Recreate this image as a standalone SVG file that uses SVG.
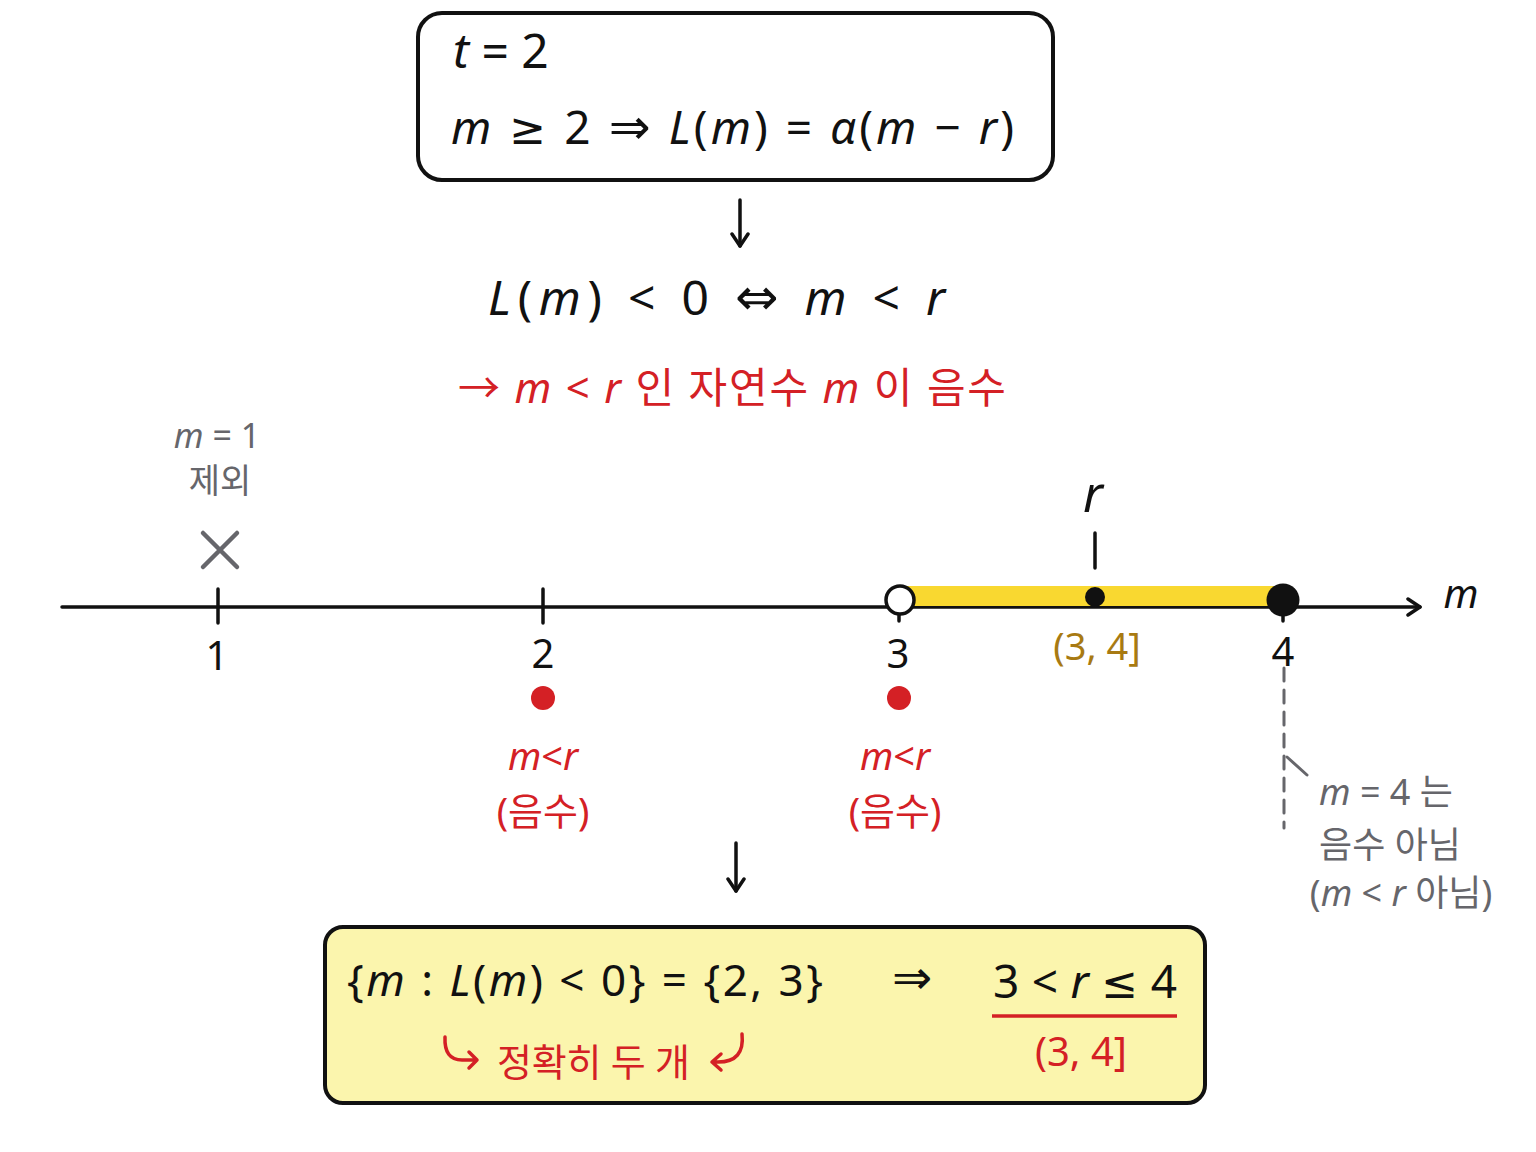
<svg xmlns="http://www.w3.org/2000/svg" width="1536" height="1152" viewBox="0 0 1536 1152">
<style>
text{font-family:"Noto Sans","Noto Sans CJK KR",sans-serif;}
.k{fill:#111;}
.red{fill:#d42025;}
.gray{fill:#66666b;}
.brown{fill:#a87a12;}
.i{font-style:italic;}
.sym{font-family:"DejaVu Sans",sans-serif;}
.box{stroke:#111;stroke-width:4;}
.ln{stroke:#111;stroke-width:3.5;fill:none;stroke-linecap:round;stroke-linejoin:round;}
.rl{stroke:#d42025;stroke-width:3.5;fill:none;stroke-linecap:round;stroke-linejoin:round;}
.gl{stroke:#66666b;stroke-width:3;fill:none;stroke-linecap:round;}
</style>
<defs>
<marker id="ah" viewBox="0 0 20 20" refX="16" refY="10" markerWidth="20" markerHeight="20" markerUnits="userSpaceOnUse" orient="auto">
<path d="M4,2 L16,10 L4,18" fill="none" stroke="#111" stroke-width="3.5" stroke-linecap="round" stroke-linejoin="round"/>
</marker>
</defs>
<rect width="1536" height="1152" fill="#ffffff"/>

<g id="top-box">
<rect class="box" x="418" y="13" width="635" height="167" rx="24" fill="#ffffff"/>
<text class="k" x="453" y="68" font-size="48"><tspan class="i">t</tspan> = 2</text>
<text class="k" x="451" y="144" font-size="46" textLength="563"><tspan class="i">m</tspan> <tspan class="sym" font-size="44">≥</tspan> 2 <tspan class="sym" font-size="50">⇒</tspan> <tspan class="i">L</tspan>(<tspan class="i">m</tspan>) = <tspan class="i">α</tspan>(<tspan class="i">m</tspan> − <tspan class="i">r</tspan>)</text>
</g>

<g id="equivalence">
<text class="k" x="488" y="315" font-size="48" textLength="457"><tspan class="i">L</tspan>(<tspan class="i">m</tspan>) &lt; 0 <tspan class="sym" font-size="52">⇔</tspan> <tspan class="i">m</tspan> &lt; <tspan class="i">r</tspan></text>
<text class="red" x="458" y="403" font-size="42" textLength="548">→ <tspan class="i">m</tspan> &lt; <tspan class="i">r</tspan> 인 자연수 <tspan class="i">m</tspan> 이 음수</text>
</g>

<g id="excluded-1">
<text class="gray" x="217" y="448" font-size="34" text-anchor="middle"><tspan class="i">m</tspan> = 1</text>
<text class="gray" x="220" y="493" font-size="34" text-anchor="middle">제외</text>
<path d="M203,533 L237,567 M237,533 L203,567" stroke="#66666b" stroke-width="4.5" stroke-linecap="round"/>
</g>

<g id="connectors">
<line class="ln" x1="740" y1="200" x2="740" y2="246" marker-end="url(#ah)"/>
<line class="ln" x1="736" y1="843" x2="736" y2="891" marker-end="url(#ah)"/>
<line class="ln" x1="62" y1="607" x2="1420" y2="607" marker-end="url(#ah)"/>
<line class="gl" x1="1284" y1="668" x2="1284" y2="828" stroke-dasharray="13,9"/>
<line class="gl" x1="1287" y1="757" x2="1307" y2="775"/>
</g>

<g id="number-line">
<rect x="900" y="586" width="383" height="20" fill="#f9d830"/>
<line class="ln" x1="218" y1="589" x2="218" y2="623"/>
<line class="ln" x1="543" y1="589" x2="543" y2="623"/>
<line class="ln" x1="899" y1="610" x2="899" y2="621"/>
<line class="ln" x1="1283" y1="610" x2="1283" y2="621"/>
<line class="ln" x1="1095" y1="533" x2="1095" y2="568"/>
<circle cx="900" cy="600" r="14" fill="#ffffff" stroke="#111" stroke-width="3.5"/>
<circle cx="1095" cy="597" r="10" fill="#111"/>
<circle cx="1283" cy="600" r="16.5" fill="#111"/>
<text class="k i" x="1461" y="608" font-size="40" text-anchor="middle">m</text>
<text class="k i" x="1093" y="512" font-size="50" text-anchor="middle">r</text>
<text class="k" x="217" y="670" font-size="40" text-anchor="middle">1</text>
<text class="k" x="543" y="668" font-size="40" text-anchor="middle">2</text>
<text class="k" x="898" y="668" font-size="40" text-anchor="middle">3</text>
<text class="k" x="1283" y="666" font-size="40" text-anchor="middle">4</text>
<text class="brown" x="1097" y="660" font-size="38" text-anchor="middle">(3, 4]</text>
</g>

<g id="point-2">
<circle cx="543" cy="698" r="12" fill="#d42025"/>
<text class="red" x="543" y="770" font-size="38" text-anchor="middle"><tspan class="i">m</tspan>&lt;<tspan class="i">r</tspan></text>
<text class="red" x="543" y="825" font-size="38" text-anchor="middle">(음수)</text>
</g>

<g id="point-3">
<circle cx="899" cy="698" r="12" fill="#d42025"/>
<text class="red" x="895" y="770" font-size="38" text-anchor="middle"><tspan class="i">m</tspan>&lt;<tspan class="i">r</tspan></text>
<text class="red" x="895" y="825" font-size="38" text-anchor="middle">(음수)</text>
</g>

<g id="note-4">
<text class="gray" x="1386" y="805" font-size="36" text-anchor="middle"><tspan class="i">m</tspan> = 4 는</text>
<text class="gray" x="1390" y="858" font-size="36" text-anchor="middle">음수 아님</text>
<text class="gray" x="1401" y="906" font-size="36" text-anchor="middle">(<tspan class="i">m</tspan> &lt; <tspan class="i">r</tspan> 아님)</text>
</g>

<g id="result-box">
<rect class="box" x="325" y="927" width="880" height="176" rx="18" fill="#fbf5ad"/>
<text class="k" x="347" y="996" font-size="44" textLength="476">{<tspan class="i">m</tspan> : <tspan class="i">L</tspan>(<tspan class="i">m</tspan>) &lt; 0} = {2, 3}</text>
<text class="k sym" x="912" y="994" font-size="48" text-anchor="middle">⇒</text>
<text class="k" x="993" y="998" font-size="46" textLength="184">3 &lt; <tspan class="i">r</tspan> <tspan class="sym" font-size="44">≤</tspan> 4</text>
<line x1="992" y1="1016" x2="1177" y2="1016" stroke="#d42025" stroke-width="3.5"/>
<text class="red" x="1081" y="1066" font-size="40" text-anchor="middle">(3, 4]</text>
<path class="rl" d="M445,1037 Q444,1060 462,1060 L477,1060 M469,1052 L477,1060 L469,1068"/>
<text class="red" x="497" y="1076" font-size="38" textLength="193">정확히 두 개</text>
<path class="rl" d="M742,1034 Q745,1062 718,1062 L712,1062 M721,1054 L712,1062 L721,1070"/>
</g>
</svg>
